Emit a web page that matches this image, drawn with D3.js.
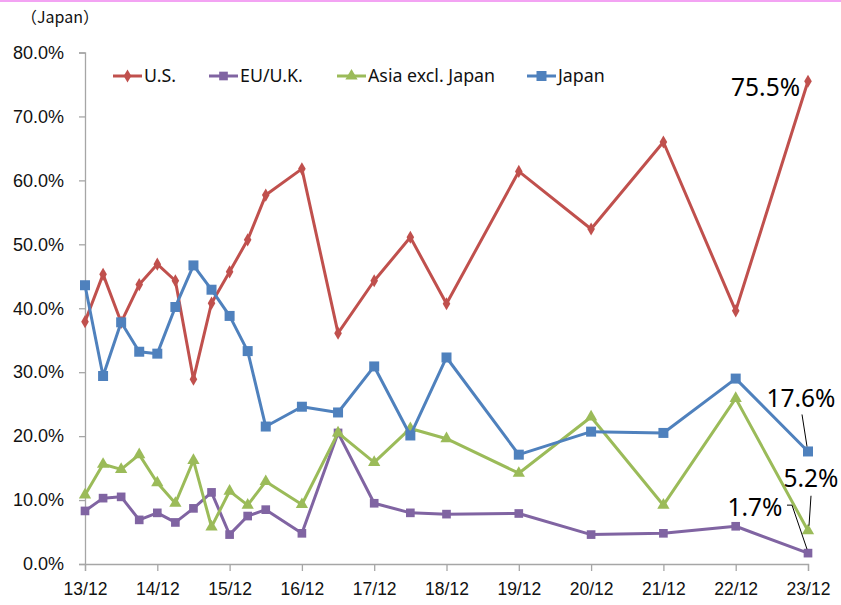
<!DOCTYPE html>
<html>
<head>
<meta charset="utf-8">
<script src="https://cdn.jsdelivr.net/npm/d3@7"></script>
<style>
  html, body { margin: 0; padding: 0; background: #fff; }
  svg { display: block; font-family: "Noto Sans", "Open Sans", sans-serif; }
</style>
</head>
<body>
<svg id="chart" width="841" height="605"></svg>
<script>
// Period labels (yy/mm) for each observation
const periods = ["13/12","14/3","14/6","14/9","14/12","15/3","15/6","15/9","15/12","16/3","16/6",
                 "16/12","17/6","17/12","18/6","18/12","19/12","20/12","21/12","22/12","23/12"];
// Axis tick labels
const xTicks = ["13/12","14/12","15/12","16/12","17/12","18/12","19/12","20/12","21/12","22/12","23/12"];
const yTicks = [0, 10, 20, 30, 40, 50, 60, 70, 80];

// Share by region (%)
const us    = [37.9,45.3,37.8,43.7,46.9,44.3,28.9,40.8,45.7,50.7,57.7,61.8,36.1,44.3,51.1,40.7,61.4,52.4,66.0,39.6,75.5];
const euUk  = [8.3,10.3,10.5,6.9,8.0,6.5,8.7,11.2,4.6,7.5,8.5,4.8,20.5,9.5,8.0,7.8,7.9,4.6,4.8,5.9,1.7];
const asia  = [10.8,15.6,14.8,17.1,12.7,9.5,16.2,5.8,11.4,9.2,12.9,9.3,20.5,15.9,21.2,19.6,14.2,23.0,9.2,25.9,5.2];
const japan = [43.6,29.4,37.8,33.2,32.9,40.2,46.7,42.9,38.8,33.3,21.5,24.6,23.7,30.9,20.1,32.3,17.1,20.7,20.5,29.0,17.6];

const seriesNames = ["U.S.", "EU/U.K.", "Asia excl. Japan", "Japan"];

// Quarter offset from 13/12 for a "yy/mm" label
const quarterIndex = s => { const [y, m] = s.split("/").map(Number); return (y - 13) * 4 + (m - 12) / 3; };

const svg = d3.select("#chart");

// Top rule
svg.append("line").attr("x1", 0).attr("x2", 841).attr("y1", 1).attr("y2", 1)
  .attr("stroke", "#F3A3F3").attr("stroke-width", 2);

const x = d3.scaleLinear().domain([0, 40]).range([85, 808]);
const y = d3.scaleLinear().domain([0, 80]).range([564, 52.5]);

const axisColor = "#A6A6A6";
const textColor = "#111";

// Y axis
const yAxis = svg.append("g").attr("transform", "translate(85,0)")
  .call(d3.axisLeft(y).tickValues(yTicks).tickSize(6).tickPadding(6)
        .tickFormat(d => d3.format(".1f")(d) + "%"));
yAxis.select(".domain").attr("stroke", axisColor).attr("stroke-width", 1.3);
yAxis.selectAll(".tick line").attr("stroke", axisColor).attr("stroke-width", 1.3);
yAxis.selectAll(".tick text").attr("fill", textColor).style("font-size", "18px").attr("x", -21);

// X axis
const xAxis = svg.append("g").attr("transform", "translate(0,564)")
  .call(d3.axisBottom(x).tickValues(xTicks.map(quarterIndex)).tickSize(7).tickPadding(12)
        .tickFormat((d, i) => xTicks[i]));
xAxis.select(".domain").attr("stroke", axisColor).attr("stroke-width", 1.3);
xAxis.selectAll(".tick line").attr("stroke", axisColor).attr("stroke-width", 1.3);
xAxis.selectAll(".tick text").attr("fill", textColor).style("font-size", "17.5px");

// Unit caption
svg.append("text").attr("x", 21).attr("y", 23)
  .style("font-family", "'Noto Sans CJK JP', 'Noto Sans', sans-serif").style("font-size", "16px")
  .attr("fill", textColor).text("（Japan）");

const series = [
  { name: seriesNames[0], values: us,    color: "#C0504D", marker: d3.symbol().type(d3.symbolDiamond).size(50) },
  { name: seriesNames[1], values: euUk,  color: "#8064A2", marker: d3.symbol().type(d3.symbolSquare).size(75) },
  { name: seriesNames[2], values: asia,  color: "#9BBB59", marker: d3.symbol().type(d3.symbolTriangle).size(65) },
  { name: seriesNames[3], values: japan, color: "#4F81BD", marker: d3.symbol().type(d3.symbolSquare).size(100) }
];

const line = d3.line().x((d, i) => x(quarterIndex(periods[i]))).y(d => y(d));

series.forEach(s => {
  const g = svg.append("g");
  g.append("path").datum(s.values).attr("d", line)
    .attr("fill", "none").attr("stroke", s.color).attr("stroke-width", 3).attr("stroke-linejoin", "round");
  g.selectAll("path.m").data(s.values).join("path").attr("class", "m")
    .attr("transform", (d, i) => `translate(${x(quarterIndex(periods[i]))},${y(d)})`)
    .attr("d", s.marker()).attr("fill", s.color);
});

// Legend
const legendItems = [
  { x: 113, s: series[0] }, { x: 209, s: series[1] }, { x: 337, s: series[2] }, { x: 527, s: series[3] }
];
const ly = 76;
legendItems.forEach(it => {
  const g = svg.append("g");
  g.append("line").attr("x1", it.x).attr("x2", it.x + 29).attr("y1", ly).attr("y2", ly)
    .attr("stroke", it.s.color).attr("stroke-width", 3);
  g.append("path").attr("transform", `translate(${it.x + 14.5},${ly})`)
    .attr("d", it.s.marker()).attr("fill", it.s.color);
  g.append("text").attr("x", it.x + 31).attr("y", ly).attr("dy", "0.35em")
    .style("font-size", "17.8px").attr("fill", textColor).text(it.s.name);
});

// End-point value labels with leader lines
const last = periods.length - 1;
const px = x(quarterIndex(periods[last]));
const labelFmt = d => d3.format(".1f")(d) + "%";
const endLabels = [
  { v: us[last],    dx: -8,  dy: 6,   anchor: "end",    leader: null },
  { v: japan[last], dx: -7,  dy: -53, anchor: "middle", leader: [[-6, -37], [-1, -5]] },
  { v: asia[last],  dx: 3,   dy: -52, anchor: "middle", leader: [[3, -35], [1, -5]] },
  { v: euUk[last],  dx: -53, dy: -46, anchor: "middle", leader: [[-21, -48], [-16, -48], [-1, -4]] }
];
endLabels.forEach(l => {
  const py = y(l.v);
  svg.append("text").attr("x", px + l.dx).attr("y", py + l.dy).attr("dy", "0.35em")
    .attr("text-anchor", l.anchor).style("font-size", "24.5px").attr("fill", "#000")
    .text(labelFmt(l.v));
  if (l.leader) {
    svg.append("path").attr("d", d3.line()(l.leader.map(p => [px + p[0], py + p[1]])))
      .attr("fill", "none").attr("stroke", "#000").attr("stroke-width", 1);
  }
});
</script>
</body>
</html>
